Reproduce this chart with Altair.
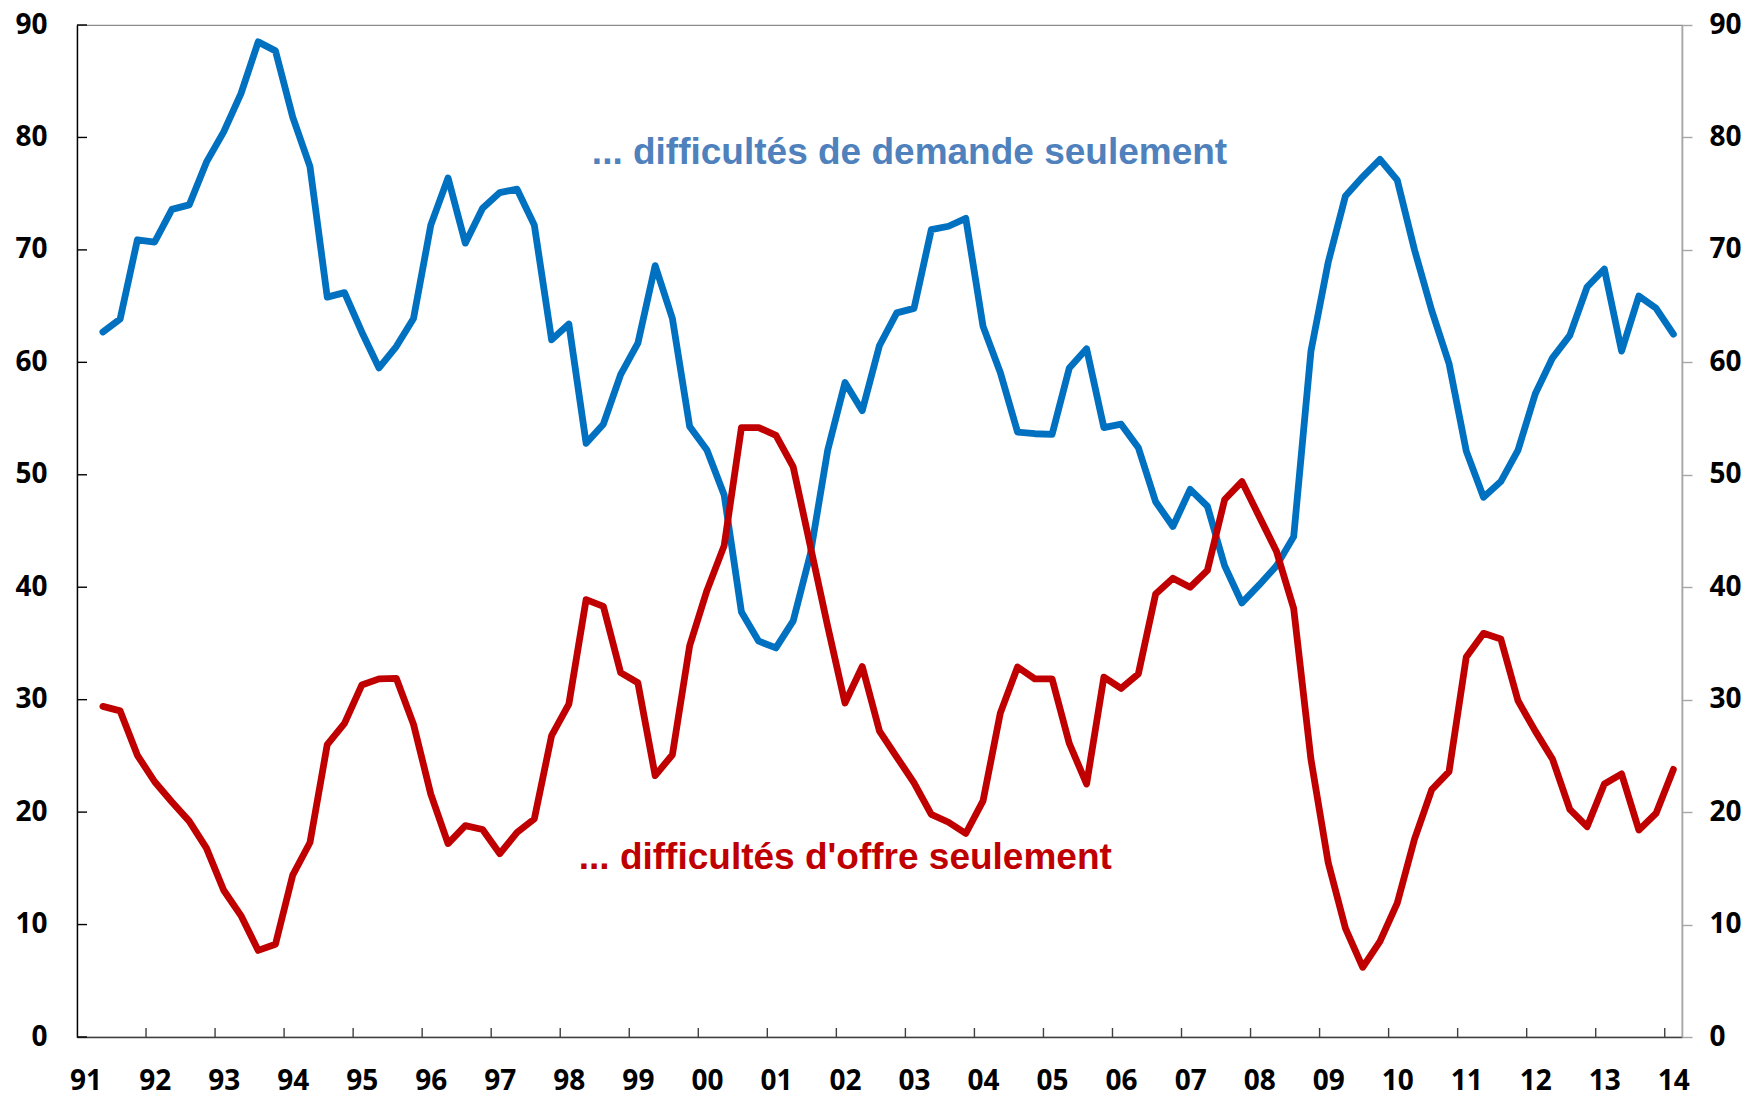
import altair as alt
import pandas as pd

# Quarterly series, 1991 Q2 .. 2014 Q1 (92 quarters)
start_year = 1991
start_quarter = 2

demande = [62.7, 63.85, 70.9, 70.7, 73.6, 74.0, 77.8, 80.5, 83.9, 88.5,
           87.7, 81.8, 77.4, 65.8, 66.2, 62.7, 59.5, 61.4, 63.9, 72.2,
           76.4, 70.6, 73.7, 75.1, 75.4, 72.2, 62.0, 63.4, 52.8, 54.5,
           58.9, 61.7, 68.6, 63.9, 54.3, 52.2, 48.2, 37.8, 35.2, 34.6,
           37.0, 43.0, 52.2, 58.2, 55.7, 61.5, 64.4, 64.8, 71.8, 72.1,
           72.8, 63.2, 59.1, 53.8, 53.65, 53.6, 59.5, 61.2, 54.2, 54.5,
           52.4, 47.6, 45.4, 48.7, 47.2, 41.9, 38.6, 40.2, 41.9, 44.5,
           61.0, 68.9, 74.8, 76.5, 78.05, 76.2, 70.0, 64.6, 59.9, 52.1,
           48.0, 49.4, 52.2, 57.2, 60.4, 62.4, 66.7, 68.3, 61.0, 65.9,
           64.8, 62.5]

offre = [29.4, 29.0, 25.05, 22.7, 20.9, 19.2, 16.8, 13.05, 10.8, 7.7,
         8.25, 14.4, 17.3, 26.0, 27.9, 31.3, 31.85, 31.9, 27.8, 21.6,
         17.2, 18.8, 18.45, 16.3, 18.2, 19.4, 26.8, 29.6, 38.9, 38.3,
         32.4, 31.5, 23.25, 25.1, 34.8, 39.7, 43.7, 54.2, 54.2, 53.5,
         50.7, 43.6, 36.5, 29.7, 32.95, 27.2, 24.9, 22.6, 19.8, 19.1,
         18.1, 21.0, 28.8, 32.9, 31.85, 31.85, 26.1, 22.5, 32.0, 31.0,
         32.3, 39.4, 40.8, 40.0, 41.5, 47.8, 49.4, 46.3, 43.2, 38.1,
         24.7, 15.5, 9.67, 6.2, 8.5, 11.9, 17.6, 22.0, 23.6, 33.8,
         35.9, 35.4, 29.9, 27.2, 24.7, 20.25, 18.7, 22.5, 23.4, 18.4,
         19.9, 23.8]

series_names = ["... difficultés de demande seulement",
                "... difficultés d'offre seulement"]
series_colors = ["#0070C0", "#C00000"]
label_colors = ["#4F81BD", "#C00000"]

tick_years = list(range(1991, 2015))
y_ticks = [0, 10, 20, 30, 40, 50, 60, 70, 80, 90]

# annotation anchor (centre of text) in data units
ann_x = [2003.06, 2002.13]
ann_y = [78.6, 15.9]

FONT = "Open Sans"
W, H = 1605, 1012


def qpos(i):
    q0 = (start_quarter - 1) + i
    return start_year + (q0 + 0.5) / 4.0


rows = []
for s, vals in zip(series_names, [demande, offre]):
    for i, v in enumerate(vals):
        rows.append({"t": qpos(i), "v": v, "serie": s, "ord": i})
df = pd.DataFrame(rows)

ann_df = pd.DataFrame({"t": ann_x, "v": ann_y, "txt": series_names,
                       "serie": series_names})

x_scale = alt.Scale(domain=[1991, 2014.25], nice=False, zero=False)
y_scale = alt.Scale(domain=[0, 90], nice=False, zero=True)

x_axis = alt.Axis(
    values=[y + 0.125 for y in tick_years],
    labelExpr="substring(toString(floor(datum.value)), 2, 4)",
    ticks=False, grid=False, title=None,
    domainColor="#404040", domainWidth=1.6,
    labelFont=FONT, labelFontSize=28, labelFontWeight="bold",
    labelColor="#000000", labelPadding=30, labelFlush=False,
    labelOverlap=False,
)

color_scale = alt.Scale(domain=series_names, range=series_colors)

lines = alt.Chart(df).mark_line(
    strokeWidth=6.8, strokeJoin="round", strokeCap="round"
).encode(
    x=alt.X("t:Q", scale=x_scale, axis=x_axis),
    y=alt.Y("v:Q", scale=y_scale, axis=alt.Axis(
        orient="left", values=y_ticks, ticks=False, grid=False, title=None,
        domainColor="#000000", domainWidth=1.4,
        labelFont=FONT, labelFontSize=28, labelFontWeight="bold",
        labelColor="#000000", labelPadding=30,
    )),
    color=alt.Color("serie:N", scale=color_scale, legend=None),
    order="ord:Q",
    detail="serie:N",
)

texts = alt.Chart(ann_df).mark_text(
    font="Liberation Sans", fontSize=37, fontWeight="bold",
    align="center", baseline="middle"
).encode(
    x=alt.X("t:Q", scale=x_scale, axis=x_axis),
    y=alt.Y("v:Q", scale=y_scale, axis=None),
    color=alt.Color("serie:N", scale=alt.Scale(domain=series_names, range=label_colors), legend=None),
    text="txt:N",
)

xt_df = pd.DataFrame({"t": tick_years[1:]})
x_ticks = alt.Chart(xt_df).mark_rule(color="#404040", strokeWidth=1.4).encode(
    x=alt.X("t:Q", scale=x_scale, axis=x_axis),
    y=alt.value(H),
    y2=alt.value(H - 9),
)

yt_df = pd.DataFrame({"v": y_ticks})
left_ticks = alt.Chart(yt_df).mark_rule(color="#000000", strokeWidth=1.4).encode(
    y=alt.Y("v:Q", scale=y_scale, axis=alt.Axis(
        orient="right", values=y_ticks, ticks=True, tickSize=10,
        tickColor="#A6A6A6", tickWidth=1.4, grid=False, title=None,
        domainColor="#A6A6A6", domainWidth=1.6,
        labelFont=FONT, labelFontSize=28, labelFontWeight="bold",
        labelColor="#000000", labelPadding=17,
    )),
    x=alt.value(0),
    x2=alt.value(10),
)

chart = alt.layer(lines, texts, x_ticks, left_ticks).resolve_scale(
    y="independent", color="independent"
).properties(
    width=W, height=H,
    autosize=alt.AutoSizeParams(type="none"),
    padding={"left": 69, "top": 17, "right": 62, "bottom": 60},
).configure_view(
    stroke="#8C8C8C", strokeWidth=1.2
)

chart.save("out.html", embed_options={"renderer": "svg", "actions": False})
